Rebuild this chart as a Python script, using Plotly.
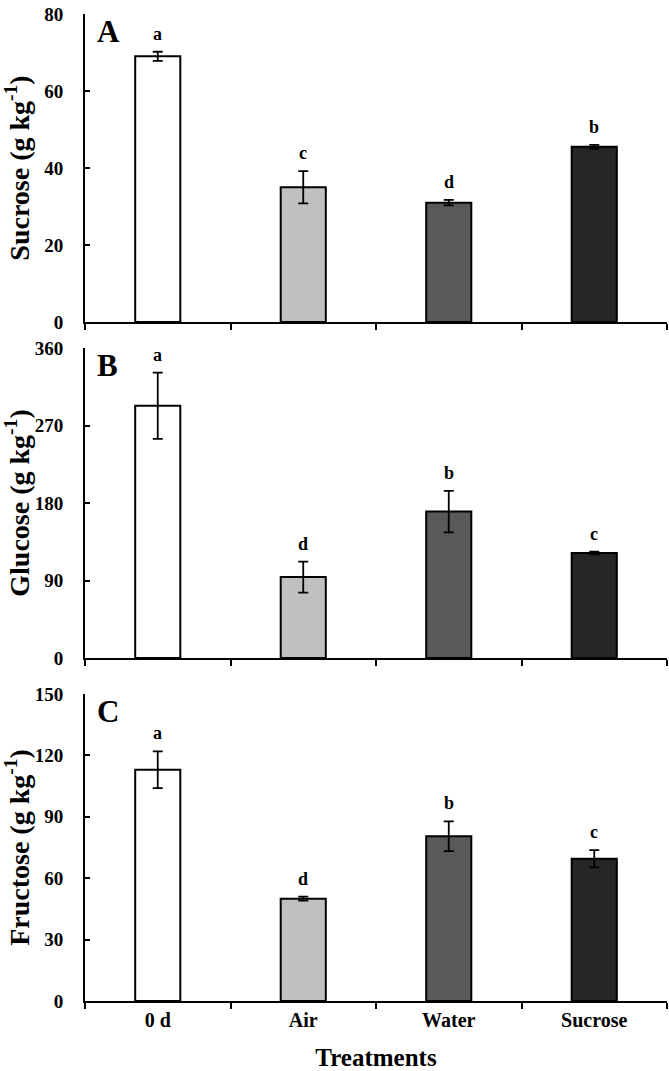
import plotly.graph_objects as go

treatments = ["0 d", "Air", "Water", "Sucrose"]
bar_colors = ["#ffffff", "#c0c0c0", "#595959", "#262626"]

sucrose = [69.0, 35.0, 31.0, 45.5]
sucrose_err = [1.2, 4.2, 0.7, 0.5]
sucrose_letters = ["a", "c", "d", "b"]

glucose = [293.0, 94.0, 170.0, 122.0]
glucose_err = [38.5, 18.0, 24.0, 1.5]
glucose_letters = ["a", "d", "b", "c"]

fructose = [113.0, 50.0, 80.5, 69.5]
fructose_err = [9.0, 1.0, 7.3, 4.2]
fructose_letters = ["a", "d", "b", "c"]

panels = [
    ("A", "Sucrose (g kg<sup>-1</sup>)", sucrose, sucrose_err, sucrose_letters, [0, 80], 20),
    ("B", "Glucose (g kg<sup>-1</sup>)", glucose, glucose_err, glucose_letters, [0, 360], 90),
    ("C", "Fructose (g kg<sup>-1</sup>)", fructose, fructose_err, fructose_letters, [0, 150], 30),
]

FONT = "Liberation Serif, Times New Roman, serif"
W, H = 669, 1071
ml, mr, mt, mb = 85, 2, 14, 70
ph = H - mt - mb
bottom_px = H - mb

def dom(top_px, bot_px):
    return [(bottom_px - bot_px) / ph, (bottom_px - top_px) / ph]

domains = [dom(14, 322), dom(348, 658), dom(694, 1001)]

fig = go.Figure()
annotations = []
for i, (lab, ytitle, vals, errs, letters, yr, dt) in enumerate(panels):
    n = "" if i == 0 else str(i + 1)
    fig.add_trace(go.Bar(
        x=treatments, y=vals,
        marker=dict(color=bar_colors, line=dict(color="black", width=2)),
        width=0.31,
        error_y=dict(type="data", array=errs, visible=True, color="black",
                     thickness=1.8, width=5),
        xaxis="x" + n, yaxis="y" + n, showlegend=False,
    ))
    for t, v, e, L in zip(treatments, vals, errs, letters):
        annotations.append(dict(
            x=t, y=v + e, xref="x" + n, yref="y" + n, text="<b>%s</b>" % L,
            showarrow=False, yanchor="bottom", yshift=6,
            font=dict(family=FONT, size=18, color="black")))
    annotations.append(dict(
        x=0.018, y=1, xref="paper", yref="y%s domain" % n, text="<b>%s</b>" % lab,
        showarrow=False, xanchor="left", yanchor="top", yshift=2,
        font=dict(family=FONT, size=31, color="black")))
    xa = dict(
        domain=[0, 1], anchor="y" + n, type="category", range=[-0.5, 3.5],
        showline=True, linecolor="black", linewidth=2,
        ticks="outside", ticklen=6, tickwidth=2, tickcolor="black",
        tickson="boundaries", showgrid=False, zeroline=False,
        showticklabels=(i == 2),
        tickfont=dict(family=FONT, size=20, color="black", weight="bold"),
    )
    if i == 2:
        xa["title"] = dict(text="<b>Treatments</b>", standoff=20,
                           font=dict(family=FONT, size=25, color="black"))
    else:
        xa["matches"] = "x3"
    ya = dict(
        domain=domains[i], anchor="x" + n, range=yr, dtick=dt,
        showline=True, linecolor="black", linewidth=2,
        ticks="inside", ticklen=5, tickwidth=2, tickcolor="black",
        showgrid=False, zeroline=False, ticklabelstandoff=16,
        tickfont=dict(family=FONT, size=19, color="black", weight="bold"),
        title=dict(text="<b>%s</b>" % ytitle, standoff=10,
                   font=dict(family=FONT, size=28, color="black")),
    )
    fig.update_layout(**{"xaxis" + n: xa, "yaxis" + n: ya})

fig.update_layout(
    width=W, height=H,
    margin=dict(l=ml, r=mr, t=mt, b=mb, autoexpand=False),
    plot_bgcolor="white", paper_bgcolor="white",
    annotations=annotations, bargap=0.68,
)
fig.write_html("out.html", config={"displayModeBar": False},
               post_script="document.body.style.margin='0';document.body.style.overflow='hidden';")
